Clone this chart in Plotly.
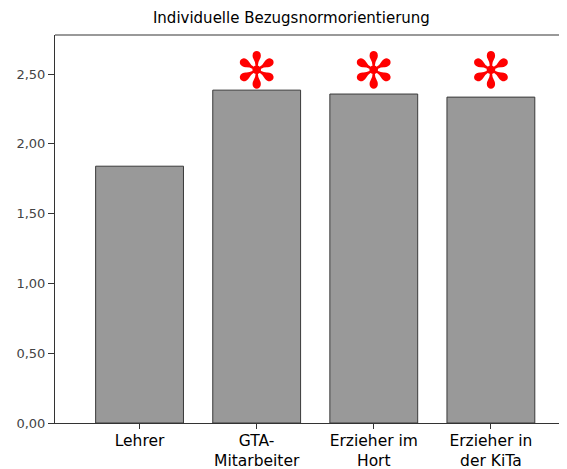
import plotly.graph_objects as go

categories = ["Lehrer", "GTA-<br>Mitarbeiter", "Erzieher im<br>Hort", "Erzieher in<br>der KiTa"]
values = [1.84, 2.385, 2.357, 2.335]
significant = [False, True, True, True]
star_level = 2.49
y_ticks = [0, 0.5, 1.0, 1.5, 2.0, 2.5]

fig = go.Figure()
fig.add_trace(go.Bar(
    x=categories, y=values,
    marker=dict(color="#999999", line=dict(color="#3a3a3a", width=1)),
    width=0.75,
))
sx = [c for c, s in zip(categories, significant) if s]
fig.add_trace(go.Scatter(
    x=sx, y=[star_level] * len(sx), mode="text", text=["✻"] * len(sx),
    textfont=dict(color="#ff0000", size=50, family="DejaVu Sans"),
    textposition="middle center", hoverinfo="skip",
))

W, H = 559, 461  # page body has an 8px margin
fig.update_layout(
    width=W, height=H,
    margin=dict(l=47, r=0, t=27, b=46),
    paper_bgcolor="white", plot_bgcolor="white",
    showlegend=False,
    separators=",.",
    font=dict(family="DejaVu Sans, Arial, sans-serif", color="#000"),
    title=dict(text="Individuelle Bezugsnormorientierung", x=0.507, xanchor="center",
               y=1 - 10 / H, yanchor="middle", font=dict(size=15, color="#000")),
    xaxis=dict(range=[-0.722, 3.65], showline=True, linecolor="#333", linewidth=1,
               ticks="outside", ticklen=5, tickcolor="#333", showgrid=False,
               ticklabelstandoff=-2,
               tickfont=dict(size=15.5, color="#000"), zeroline=False, automargin=False),
    yaxis=dict(range=[0, 2.78], tickvals=y_ticks, tickformat=".2f", showline=True,
               linecolor="#333", linewidth=1, ticks="outside", ticklen=6, tickcolor="#333",
               showgrid=False, zeroline=False, tickfont=dict(size=13, color="#444"),
               automargin=False),
    shapes=[dict(type="line", xref="paper", yref="paper", x0=0, x1=1, y0=1, y1=1,
                 line=dict(color="#999", width=2))],
)
fig.write_html("out.html")
